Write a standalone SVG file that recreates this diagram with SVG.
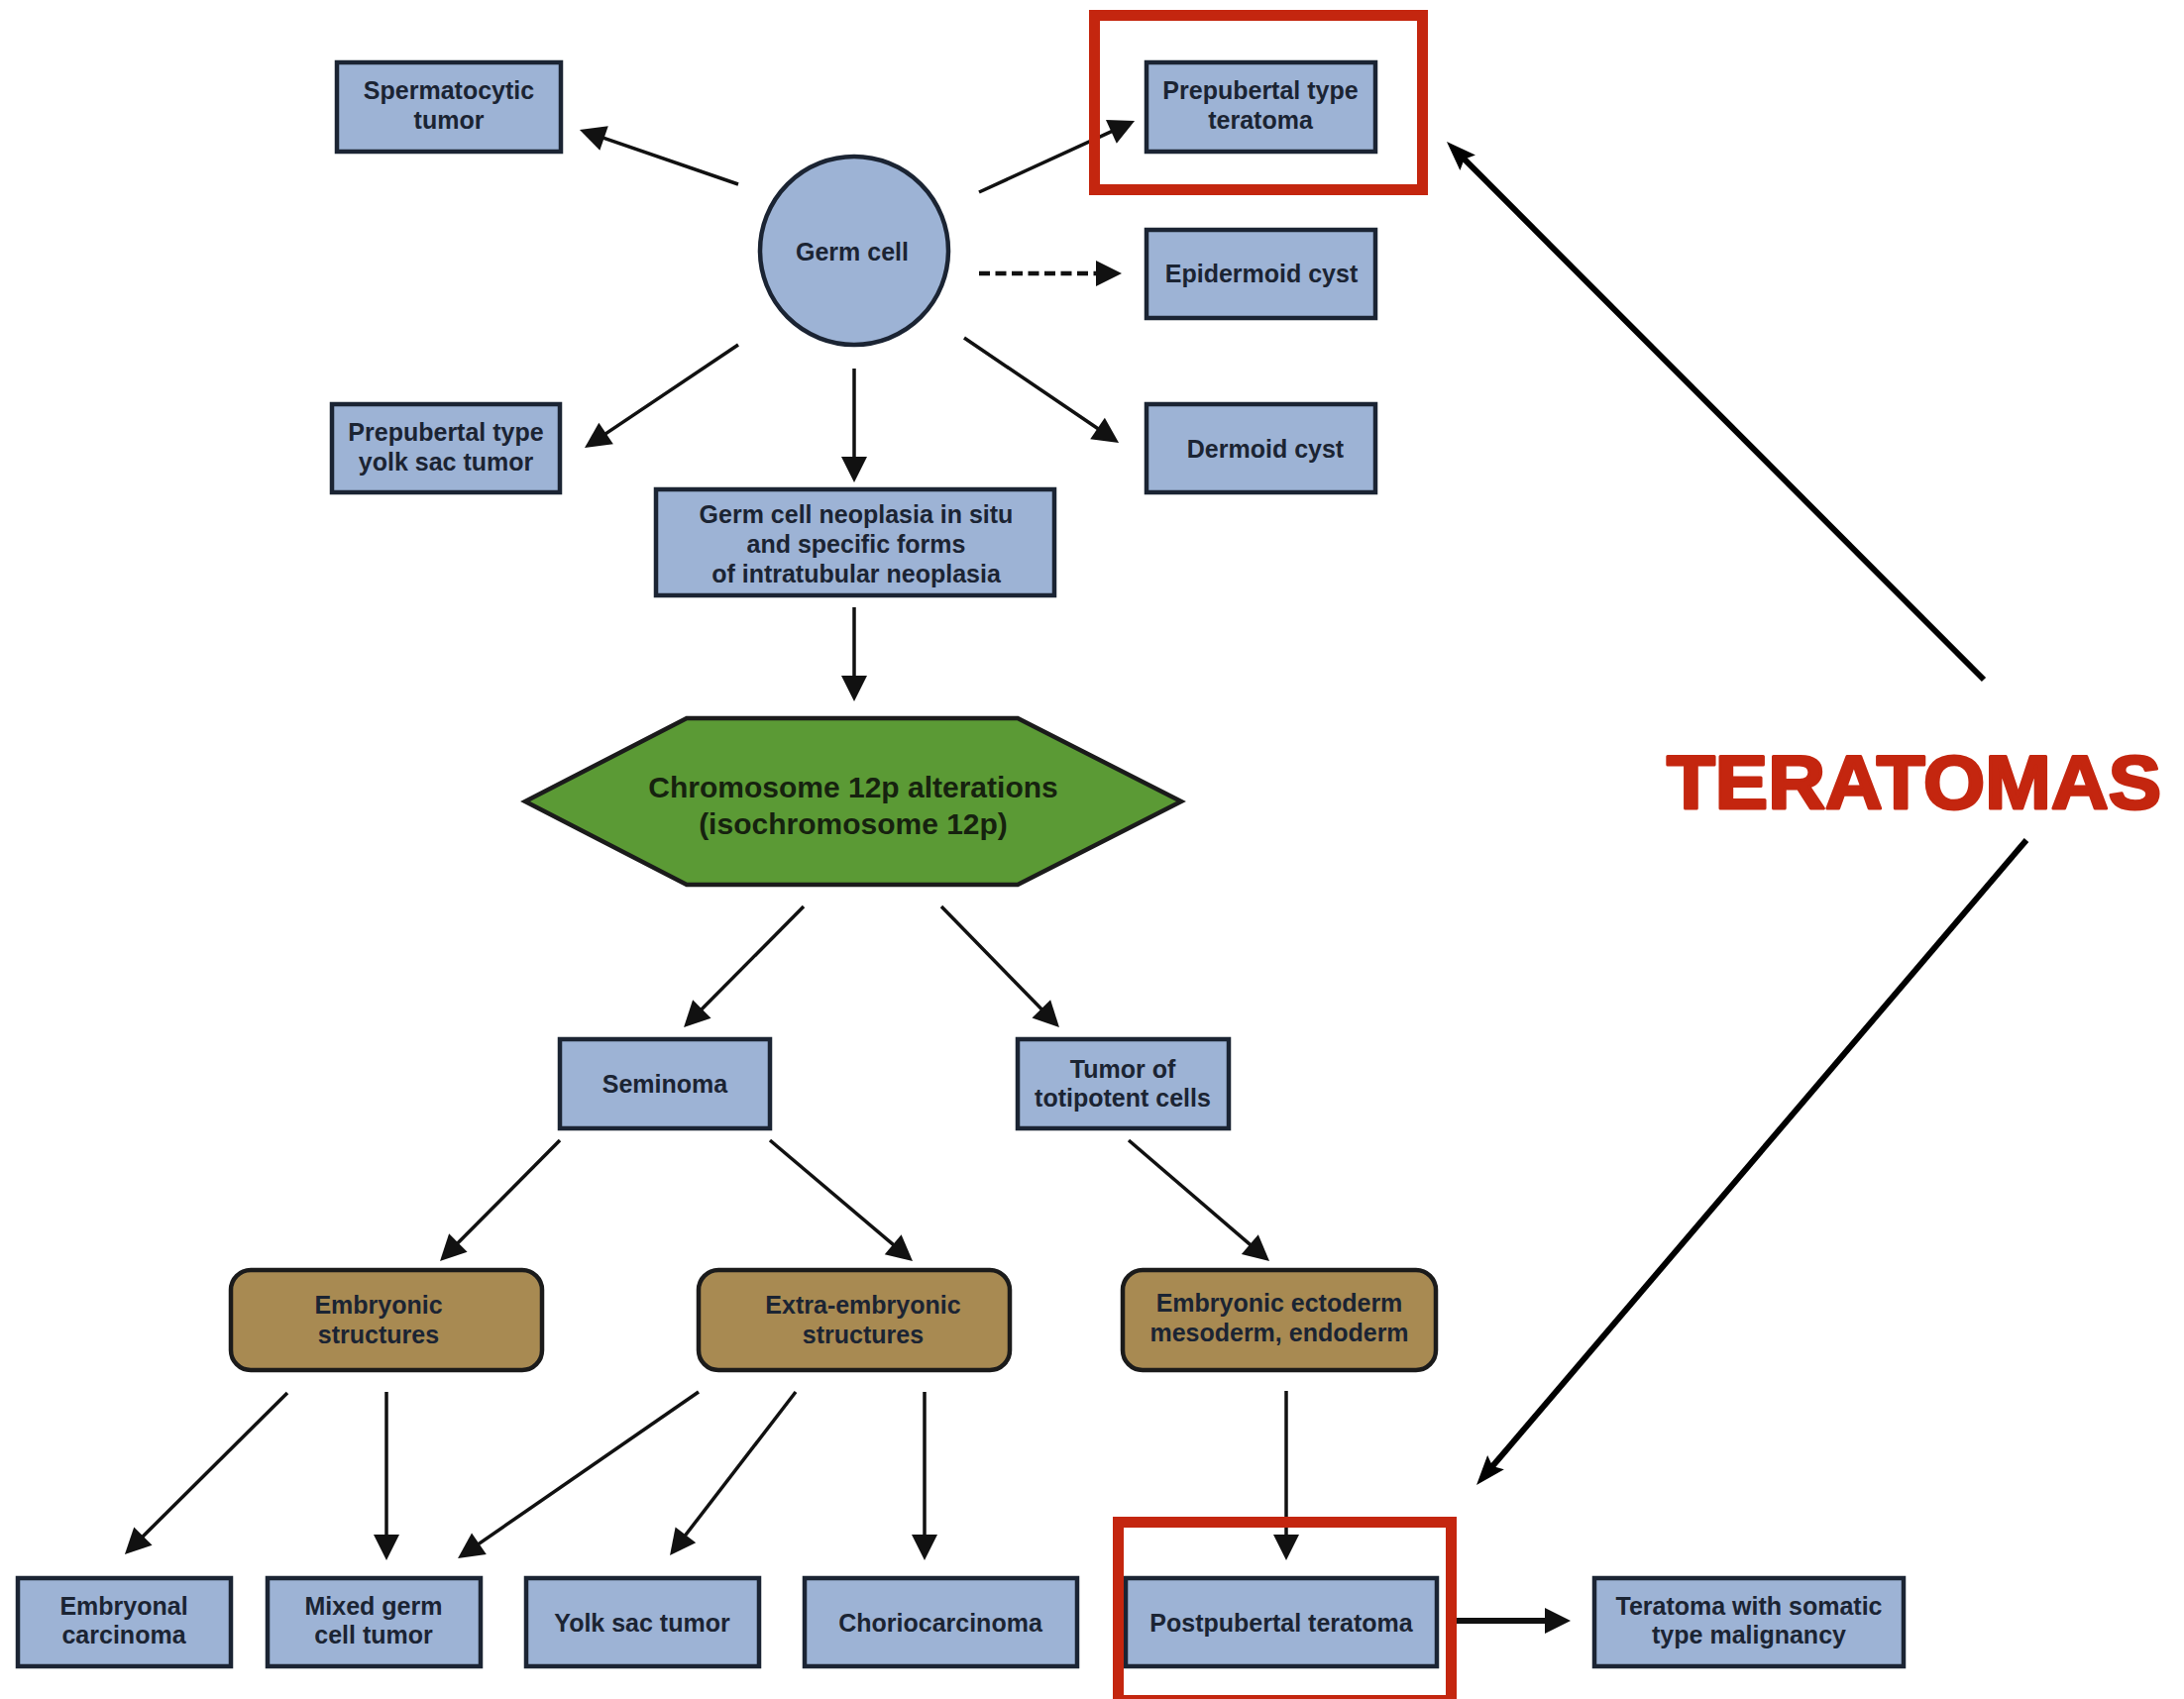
<svg xmlns="http://www.w3.org/2000/svg" width="2204" height="1715" viewBox="0 0 2204 1715">
<style>
.box{fill:#9db3d5;stroke:#1b2433;stroke-width:4.5}
.brn{fill:#a88a52;stroke:#1b1b1b;stroke-width:4.5}
.hex{fill:#5b9a35;stroke:#1b1b1b;stroke-width:4.5}
.t{font-family:"Liberation Sans",Arial,sans-serif;font-weight:bold;font-size:25px;fill:#1b2433;text-anchor:middle}
.tb{font-family:"Liberation Sans",Arial,sans-serif;font-weight:bold;font-size:30px;fill:#16220f;text-anchor:middle}
.ln{stroke:#111;stroke-width:3.5;fill:none;marker-end:url(#ah)}
.lnd{stroke:#111;stroke-width:4.5;fill:none;stroke-dasharray:11 5.5;marker-end:url(#ah)}
.lnt{stroke:#111;stroke-width:6;fill:none;marker-end:url(#ah)}
.big{stroke:#000;stroke-width:6;fill:none;marker-end:url(#ah2)}
.red{fill:none;stroke:#c4260f;stroke-width:11}
.ter{font-family:"Liberation Sans",Arial,sans-serif;font-weight:900;font-size:76px;fill:#c4260f;stroke:#c4260f;stroke-width:3;stroke-linejoin:round}
</style>
<defs>
<marker id="ah" markerUnits="userSpaceOnUse" markerWidth="27" markerHeight="27" refX="10" refY="13" orient="auto" overflow="visible">
<path d="M0,0 L26,13 L0,26 z" fill="#111"/>
</marker>
<marker id="ah2" markerUnits="userSpaceOnUse" markerWidth="30" markerHeight="26" refX="12" refY="11" orient="auto" overflow="visible">
<path d="M0,0 L30,11 L0,22 L5,11 z" fill="#000"/>
</marker>
</defs>
<rect width="2204" height="1715" fill="#ffffff"/>

<g id="connectors">
<line class="ln" x1="745" y1="186" x2="600.1" y2="136.2"/>
<line class="ln" x1="988" y1="194" x2="1130.5" y2="128.7"/>
<line class="lnd" x1="988" y1="276" x2="1116" y2="276"/>
<line class="ln" x1="745" y1="348" x2="603.3" y2="443.1"/>
<line class="ln" x1="862" y1="372" x2="862" y2="471"/>
<line class="ln" x1="973" y1="341" x2="1115.8" y2="438"/>
<line class="ln" x1="862" y1="613" x2="862" y2="692"/>
<line class="ln" x1="811" y1="915" x2="701.3" y2="1025.6"/>
<line class="ln" x1="950" y1="915" x2="1057.8" y2="1025.5"/>
<line class="ln" x1="565" y1="1151" x2="455.3" y2="1261.6"/>
<line class="ln" x1="777" y1="1151" x2="908.8" y2="1262.7"/>
<line class="ln" x1="1139" y1="1151" x2="1268.9" y2="1262.6"/>
<line class="ln" x1="290" y1="1406" x2="137.3" y2="1557.7"/>
<line class="ln" x1="390" y1="1405" x2="390" y2="1559"/>
<line class="ln" x1="705" y1="1405" x2="475.2" y2="1563.9"/>
<line class="ln" x1="803" y1="1405" x2="685.8" y2="1557.3"/>
<line class="ln" x1="933" y1="1405" x2="933" y2="1559"/>
<line class="ln" x1="1298" y1="1404" x2="1298" y2="1559"/>
<line class="lnt" x1="1470" y1="1636" x2="1569" y2="1636"/>
<line class="big" x1="2002" y1="686" x2="1472.7" y2="155.7"/>
<line class="big" x1="2045" y1="848" x2="1501.7" y2="1485.3"/>
</g>

<g id="spermatocytic">
<rect class="box" x="340" y="63" width="226" height="90"/>
<text class="t" x="453" y="100">Spermatocytic</text>
<text class="t" x="453" y="130">tumor</text>
</g>
<g id="prepubertal-teratoma">
<rect class="box" x="1157" y="63" width="231" height="90"/>
<text class="t" x="1272" y="100">Prepubertal type</text>
<text class="t" x="1272" y="130">teratoma</text>
</g>
<g id="germ-cell">
<circle cx="862" cy="253" r="95" fill="#9db3d5" stroke="#1b2433" stroke-width="4.5"/>
<text class="t" x="860" y="263">Germ cell</text>
</g>
<g id="epidermoid">
<rect class="box" x="1157" y="232" width="231" height="89"/>
<text class="t" x="1273" y="285">Epidermoid cyst</text>
</g>
<g id="yolk-prepubertal">
<rect class="box" x="335" y="408" width="230" height="89"/>
<text class="t" x="450" y="445">Prepubertal type</text>
<text class="t" x="450" y="475">yolk sac tumor</text>
</g>
<g id="dermoid">
<rect class="box" x="1157" y="408" width="231" height="89"/>
<text class="t" x="1277" y="462">Dermoid cyst</text>
</g>
<g id="gcnis">
<rect class="box" x="662" y="494" width="402" height="107"/>
<text class="t" x="864" y="528">Germ cell neoplasia in situ</text>
<text class="t" x="864" y="558">and specific forms</text>
<text class="t" x="864" y="588">of intratubular neoplasia</text>
</g>
<g id="chromosome">
<polygon class="hex" points="530,809 693,725 1027,725 1192,809 1027,893 693,893"/>
<text class="tb" x="861" y="805">Chromosome 12p alterations</text>
<text class="tb" x="861" y="842">(isochromosome 12p)</text>
</g>
<g id="seminoma">
<rect class="box" x="565" y="1049" width="212" height="90"/>
<text class="t" x="671" y="1103">Seminoma</text>
</g>
<g id="totipotent">
<rect class="box" x="1027" y="1049" width="213" height="90"/>
<text class="t" x="1133" y="1088">Tumor of</text>
<text class="t" x="1133" y="1117">totipotent cells</text>
</g>
<g id="embryonic">
<rect class="brn" x="233" y="1282" width="314" height="101" rx="20"/>
<text class="t" x="382" y="1326">Embryonic</text>
<text class="t" x="382" y="1356">structures</text>
</g>
<g id="extra-embryonic">
<rect class="brn" x="705" y="1282" width="314" height="101" rx="20"/>
<text class="t" x="871" y="1326">Extra-embryonic</text>
<text class="t" x="871" y="1356">structures</text>
</g>
<g id="ectoderm">
<rect class="brn" x="1133" y="1282" width="316" height="101" rx="20"/>
<text class="t" x="1291" y="1324">Embryonic ectoderm</text>
<text class="t" x="1291" y="1354">mesoderm, endoderm</text>
</g>
<g id="embryonal-carcinoma">
<rect class="box" x="18" y="1593" width="215" height="89"/>
<text class="t" x="125" y="1630">Embryonal</text>
<text class="t" x="125" y="1659">carcinoma</text>
</g>
<g id="mixed">
<rect class="box" x="270" y="1593" width="215" height="89"/>
<text class="t" x="377" y="1630">Mixed germ</text>
<text class="t" x="377" y="1659">cell tumor</text>
</g>
<g id="yolk-sac">
<rect class="box" x="531" y="1593" width="235" height="89"/>
<text class="t" x="648" y="1647">Yolk sac tumor</text>
</g>
<g id="choriocarcinoma">
<rect class="box" x="812" y="1593" width="275" height="89"/>
<text class="t" x="949" y="1647">Choriocarcinoma</text>
</g>
<g id="postpubertal">
<rect class="box" x="1136" y="1593" width="314" height="89"/>
<text class="t" x="1293" y="1647">Postpubertal teratoma</text>
</g>
<g id="somatic">
<rect class="box" x="1609" y="1593" width="312" height="89"/>
<text class="t" x="1765" y="1630">Teratoma with somatic</text>
<text class="t" x="1765" y="1659">type malignancy</text>
</g>

<g id="highlights">
<rect class="red" x="1104.5" y="15.5" width="331" height="176"/>
<rect class="red" x="1128.5" y="1536.5" width="336" height="180"/>
<text class="ter" x="1682" y="816" textLength="499" lengthAdjust="spacingAndGlyphs">TERATOMAS</text>
</g>
</svg>
